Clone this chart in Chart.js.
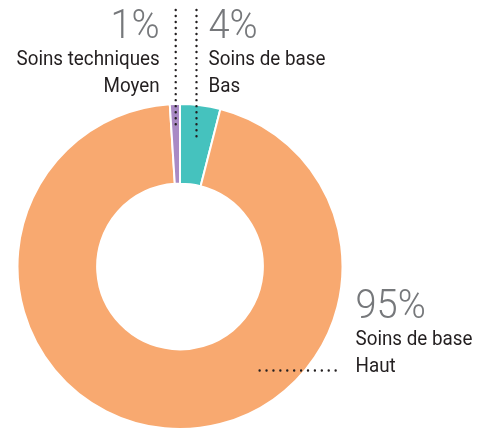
<!DOCTYPE html>
<html>
<head>
<meta charset="utf-8">
<script src="https://cdn.jsdelivr.net/npm/chart.js@4/dist/chart.umd.min.js"></script>
<style>
html,body{margin:0;padding:0;background:#fff;}
canvas{display:block;}
</style>
</head>
<body>
<canvas id="c" width="483" height="430"></canvas>
<script>
const categories = ["Soins de base\nBas", "Soins de base\nHaut", "Soins techniques\nMoyen"];
const values = [4, 95, 1];
const percentLabels = ["4%", "95%", "1%"];
const colors = ["#45C2BE", "#F8A970", "#A98AC5"];

const FONT = 'Roboto, "Liberation Sans", sans-serif';

const labelPlugin = {
  id: 'labels',
  afterDraw(chart) {
    const ctx = chart.ctx;
    const arcs = chart.getDatasetMeta(0).data;
    const cx = arcs[0].x, cy = arcs[0].y;
    const R = arcs[0].outerRadius;
    function mid(a) { return (a.startAngle + a.endAngle) / 2; }
    ctx.save();
    ctx.strokeStyle = '#231f20';
    ctx.lineWidth = 2.4;
    ctx.lineCap = 'round';
    const bas = arcs[0], moyen = arcs[2];
    const xb = cx + Math.cos(mid(bas)) * R * 0.81;
    const xm = cx + Math.cos(mid(moyen)) * R * 0.84;
    ctx.setLineDash([0.01, 6]);
    ctx.beginPath();
    ctx.moveTo(xm, 10); ctx.lineTo(xm, cy - R * 0.84);
    ctx.moveTo(xb, 10); ctx.lineTo(xb, cy - R * 0.79);
    ctx.stroke();
    ctx.setLineDash([0.01, 6.9]);
    const yh = cy + R * 0.64;
    ctx.beginPath();
    ctx.moveTo(cx + R * 0.49, yh); ctx.lineTo(cx + R * 1.0, yh);
    ctx.stroke();
    ctx.setLineDash([]);

    ctx.textBaseline = 'alphabetic';
    function scaledText(t, x, y, align, sx) {
      ctx.save();
      ctx.translate(x, y);
      ctx.scale(sx, 1);
      ctx.textAlign = align;
      ctx.fillText(t, 0, 0);
      ctx.restore();
    }
    function block(idx, x, yPct, align) {
      ctx.fillStyle = '#76787b';
      ctx.font = '300 40px ' + FONT;
      scaledText(percentLabels[idx], x, yPct, align, 0.95);
      ctx.fillStyle = '#231f20';
      ctx.font = '20px ' + FONT;
      const lines = categories[idx].split('\n');
      lines.forEach((l, i) => scaledText(l, x, yPct + 27 + i * 26.5, align, 0.94));
    }
    block(2, xm - 16, 38, 'right');
    block(0, xb + 12, 38, 'left');
    block(1, cx + R + 13, 318, 'left');
    ctx.restore();
  }
};

new Chart(document.getElementById('c'), {
  type: 'doughnut',
  data: {
    labels: categories,
    datasets: [{
      data: values,
      backgroundColor: colors,
      borderColor: '#ffffff',
      borderWidth: 2
    }]
  },
  options: {
    responsive: false,
    animation: false,
    cutout: '51%',
    rotation: 0,
    layout: { padding: { left: 16, right: 139, top: 103, bottom: 0 } },
    plugins: { legend: { display: false }, tooltip: { enabled: false } }
  },
  plugins: [labelPlugin]
});
</script>
</body>
</html>
